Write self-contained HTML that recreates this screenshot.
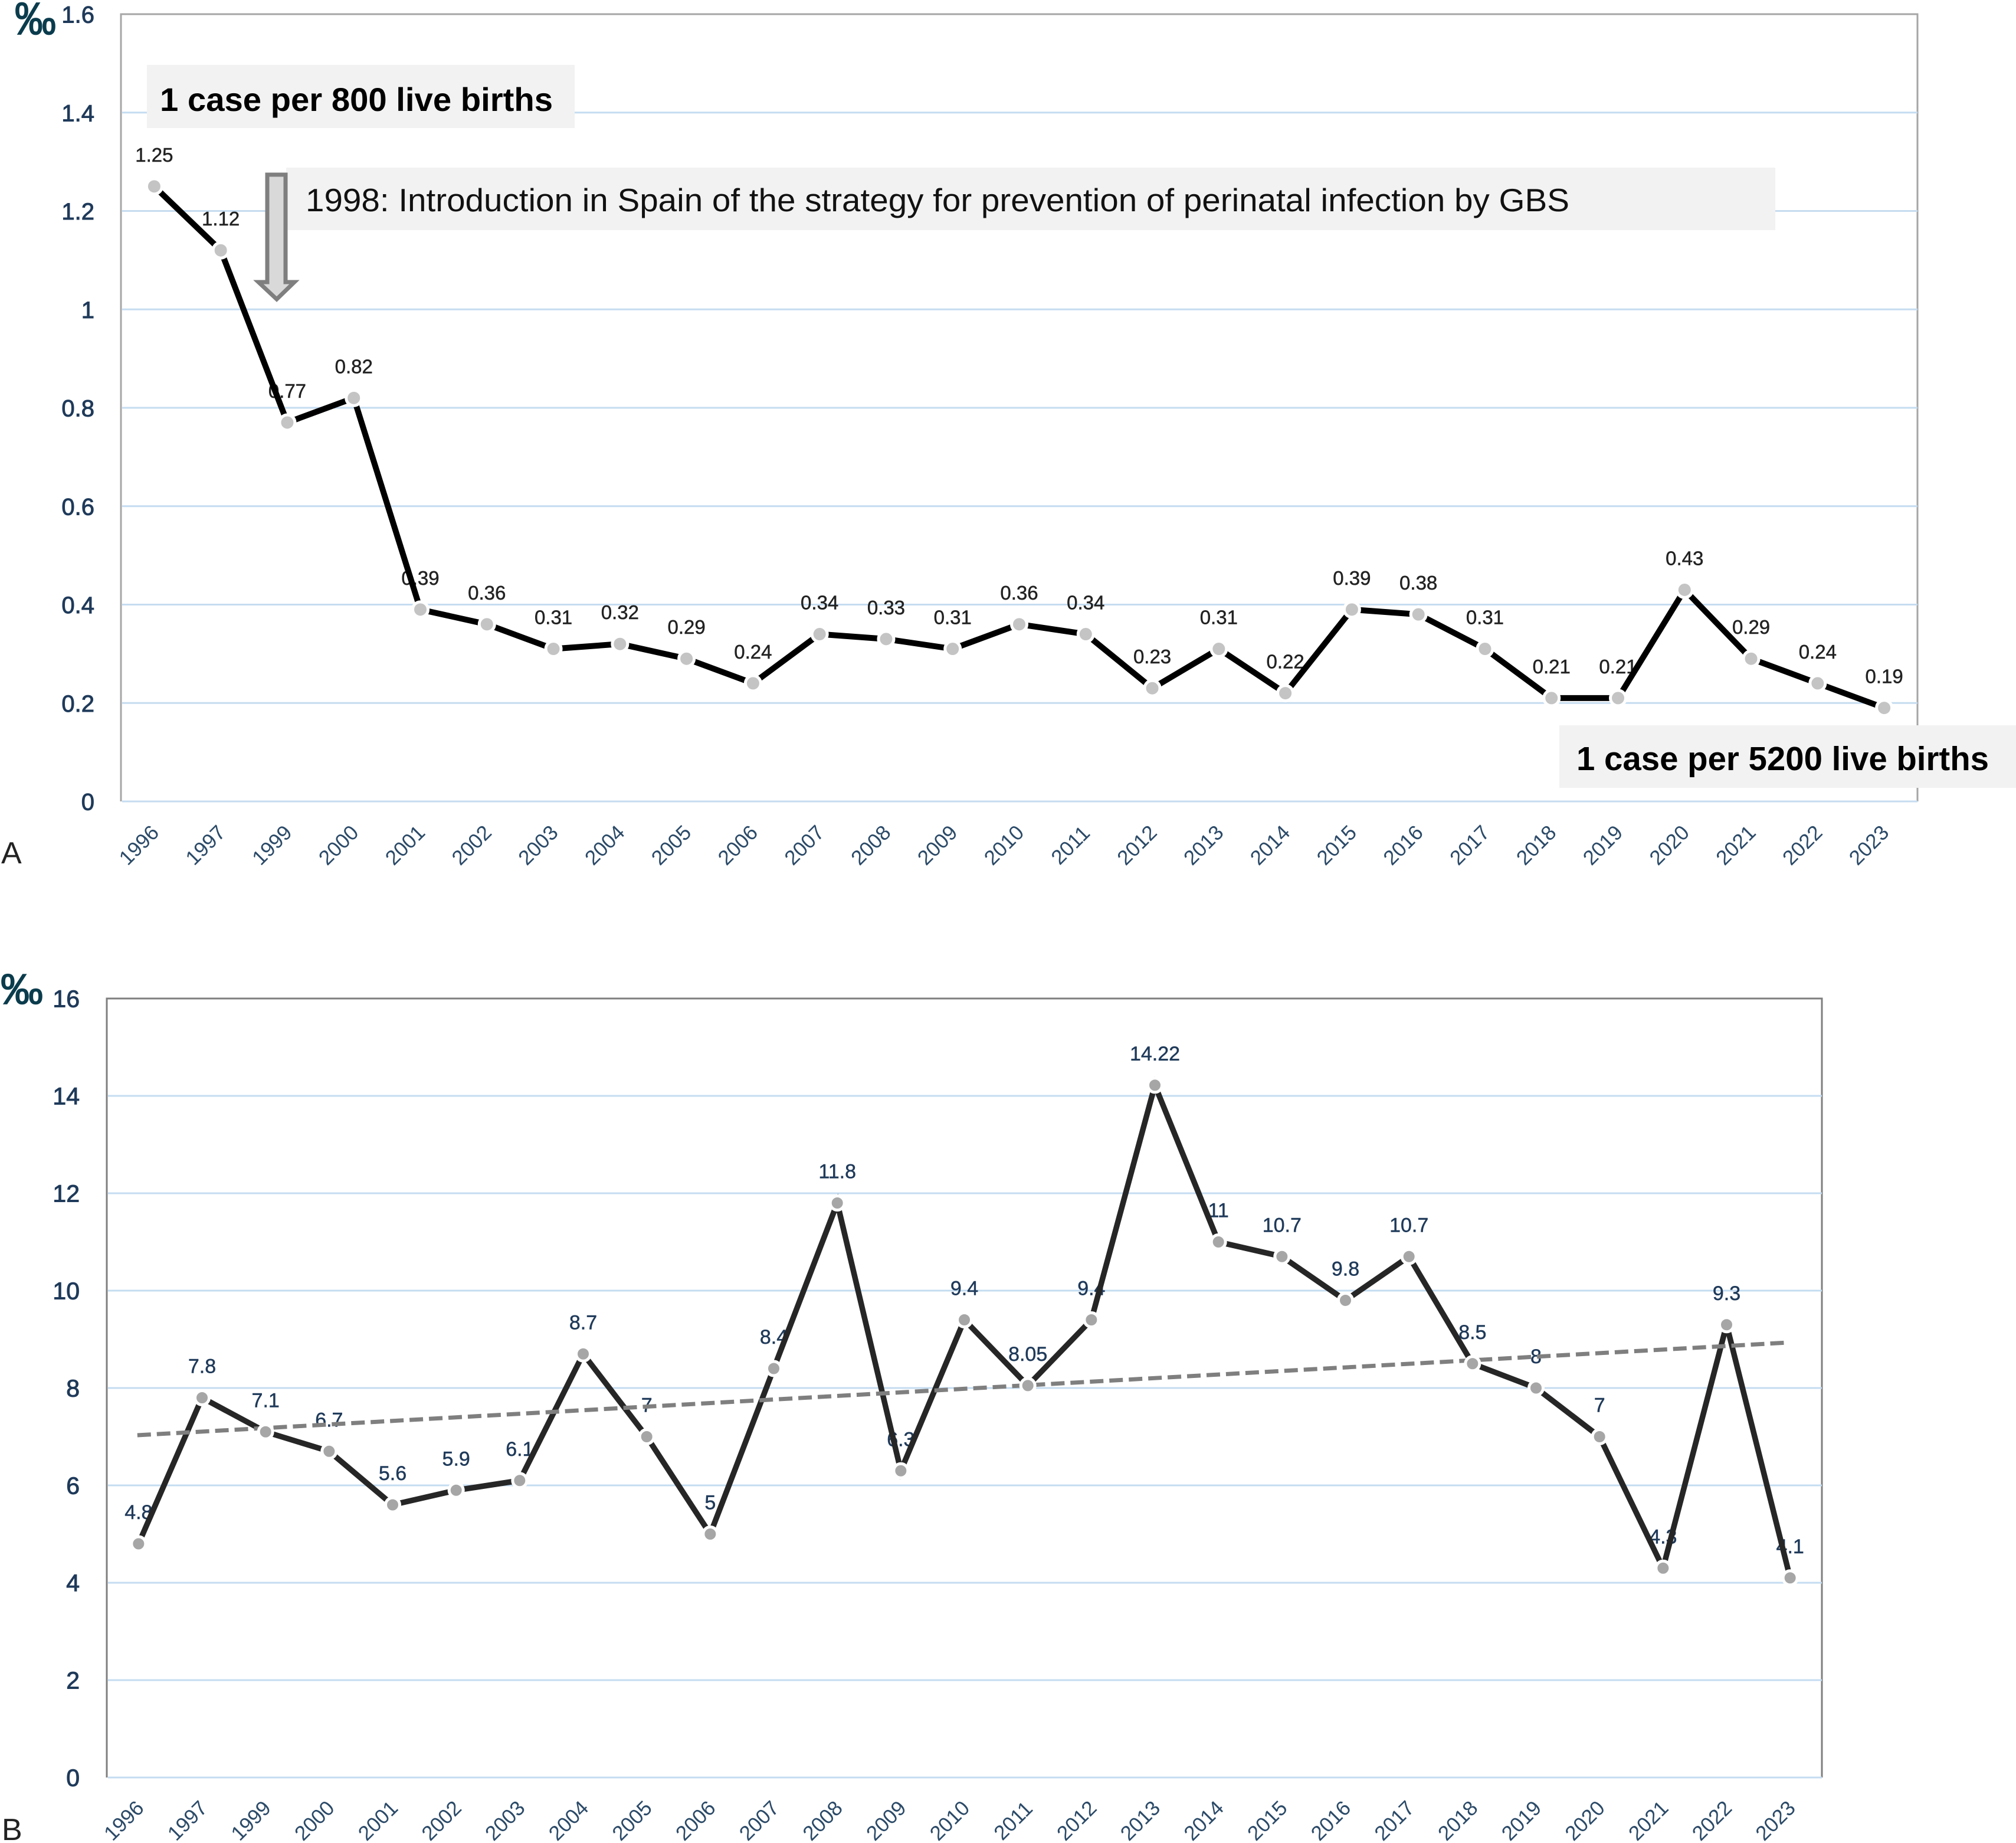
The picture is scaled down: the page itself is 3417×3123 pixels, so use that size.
<!DOCTYPE html>
<html lang="en">
<head>
<meta charset="utf-8">
<title>Incidence charts 1996-2023</title>
<style>
html,body{margin:0;padding:0;background:#fff;}
svg{display:block;}
text{font-family:"Liberation Sans",sans-serif;}
</style>
</head>
<body>
<svg id="figure" xmlns="http://www.w3.org/2000/svg" width="3417" height="3123" viewBox="0 0 3417 3123">
  <rect x="0" y="0" width="3417" height="3123" fill="#ffffff"/>
  <g id="panelA"></g>
  <g id="panelB"></g>
  <rect x="249" y="110" width="725" height="107" fill="#f2f2f2"/>
  <text x="271" y="188" font-size="56" font-weight="700" fill="#000" textLength="666" lengthAdjust="spacingAndGlyphs">1 case per 800 live births</text>
  <rect x="485" y="284" width="2524" height="106" fill="#f2f2f2"/>
  <text x="518" y="358" font-size="55" fill="#111" textLength="2142" lengthAdjust="spacingAndGlyphs">1998: Introduction in Spain of the strategy for prevention of perinatal infection by GBS</text>
  <rect x="2643" y="1229" width="774" height="106" fill="#f2f2f2"/>
  <text x="2672" y="1305" font-size="57" font-weight="700" fill="#000" textLength="699" lengthAdjust="spacingAndGlyphs">1 case per 5200 live births</text>
  <polygon points="453,296 484,296 484,478 499,478 469,507 438,478 453,478" fill="#d9d9d9" stroke="#7f7f7f" stroke-width="7"/>
  <text transform="translate(25 58) scale(1 1.1)" font-size="70" fill="#0b3c4d" stroke="#0b3c4d" stroke-width="1.5">‰</text>
  <text transform="translate(1 1701)" font-size="72" fill="#0b3c4d" stroke="#0b3c4d" stroke-width="1.5">‰</text>
  <text x="2" y="1463" font-size="52" fill="#222">A</text>
  <text x="3" y="3118" font-size="52" fill="#222">B</text>
</svg>
<script>
const categories = ["1996","1997","1999","2000","2001","2002","2003","2004","2005","2006","2007","2008","2009","2010","2011","2012","2013","2014","2015","2016","2017","2018","2019","2020","2021","2022","2023"];
const valuesA = [1.25,1.12,0.77,0.82,0.39,0.36,0.31,0.32,0.29,0.24,0.34,0.33,0.31,0.36,0.34,0.23,0.31,0.22,0.39,0.38,0.31,0.21,0.21,0.43,0.29,0.24,0.19];
const valuesB = [4.8,7.8,7.1,6.7,5.6,5.9,6.1,8.7,7,5,8.4,11.8,6.3,9.4,8.05,9.4,14.22,11,10.7,9.8,10.7,8.5,8,7,4.3,9.3,4.1];
const ticksA = [0,0.2,0.4,0.6,0.8,1,1.2,1.4,1.6];
const ticksB = [0,2,4,6,8,10,12,14,16];
const trendB = [7.03,8.93];

const NS = 'http://www.w3.org/2000/svg';
function make(parent, tag, attrs, txt) {
  const node = document.createElementNS(NS, tag);
  for (const k in attrs) node.setAttribute(k, attrs[k]);
  if (txt !== undefined) node.textContent = txt;
  parent.appendChild(node);
  return node;
}

function drawChart(root, vals, ticks, s) {
  const n = categories.length;
  const max = ticks[ticks.length - 1];
  const xAt = function (i) { return s.left + (i + 0.5) * (s.right - s.left) / n; };
  const yAt = function (v) { return s.bottom - v / max * (s.bottom - s.top); };

  // plot frame
  const frame = make(root, 'path', {d: 'M' + s.left + ' ' + s.bottom + 'V' + s.top + 'H' + s.right + 'V' + s.bottom, fill: 'none', stroke: s.frame, 'stroke-width': 3});
  
  

  // gridlines and y ticks
  ticks.forEach(function (t, k) {
    if (k < ticks.length - 1) {
      const grid = make(root, 'line', {x1: s.left + 2, x2: s.right, y1: yAt(t), y2: yAt(t), stroke: '#c5dcf0', 'stroke-width': 3});
      
      
    }
    const tick = make(root, 'text', {x: s.tickX, y: yAt(t) + 14.5, 'text-anchor': 'end', 'font-size': s.tickSize, fill: '#1f3a5a', stroke: '#1f3a5a', 'stroke-width': 1}, String(t));
    
    
  });

  // x labels
  categories.forEach(function (c, i) {
    const cx = xAt(i) + s.catDx, cy = s.catY;
    const lab = make(root, 'text', {x: cx, y: cy + 12, 'text-anchor': 'middle', 'font-size': 35, fill: '#2b4a68', transform: 'rotate(-45 ' + cx + ' ' + cy + ')'}, c);
    
    
  });

  // data labels sit beneath the line
  vals.forEach(function (v, i) {
    const lab = make(root, 'text', {x: xAt(i), y: yAt(v) - 42, 'text-anchor': 'middle', 'font-size': s.labelSize, fill: s.labelColor, stroke: s.labelColor, 'stroke-width': 0.5}, String(v));
    
    
  });

  // series line
  const pts = vals.map(function (v, i) { return xAt(i) + ',' + yAt(v); }).join(' ');
  const series = make(root, 'polyline', {points: pts, fill: 'none', stroke: s.line, 'stroke-width': s.lineWidth, 'stroke-linejoin': 'miter'});
  
  

  // optional trend line
  if (s.trend) {
    const trend = make(root, 'line', {x1: xAt(0) - 2, x2: xAt(n - 1) - 9, y1: yAt(s.trend[0]), y2: yAt(s.trend[1]), stroke: '#7f7f7f', 'stroke-width': 7, 'stroke-dasharray': '23 10'});
    
    
  }

  // markers with white halo
  vals.forEach(function (v, i) {
    const dot = make(root, 'circle', {cx: xAt(i), cy: yAt(v), r: s.markerR, fill: s.marker, stroke: '#ffffff', 'stroke-width': 5});
    
    
  });
}

drawChart(document.getElementById('panelA'), valuesA, ticksA, {
  left: 205, right: 3250, top: 24, bottom: 1358, frame: '#a6a6a6',
  tickX: 160, tickSize: 40, catDx: -26, catY: 1432,
  labelSize: 33, labelColor: '#222222', line: '#000000', lineWidth: 10, marker: '#c4c4c4', markerR: 13
});
drawChart(document.getElementById('panelB'), valuesB, ticksB, {
  left: 181, right: 3088, top: 1692, bottom: 3012, frame: '#7f7f7f',
  tickX: 135, tickSize: 41, catDx: -25, catY: 3085,
  labelSize: 34, labelColor: '#1f3a5a', line: '#262626', lineWidth: 9.5, marker: '#a6a6a6', markerR: 12,
  trend: trendB
});
</script>
</body>
</html>
